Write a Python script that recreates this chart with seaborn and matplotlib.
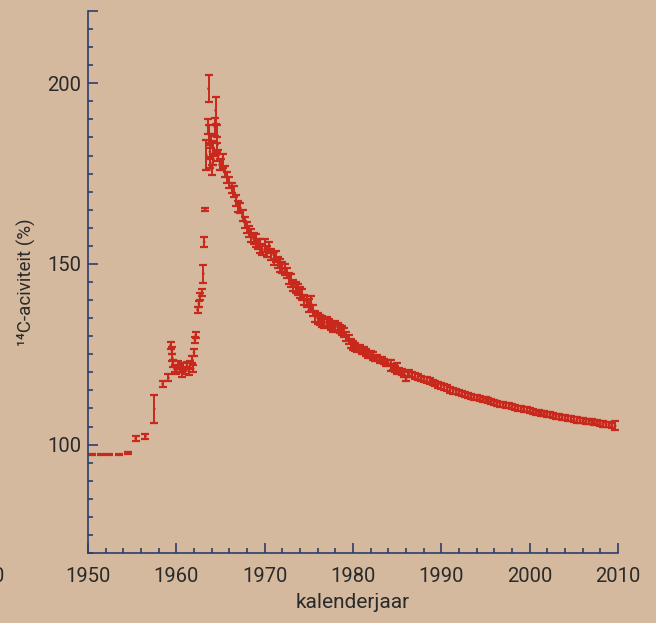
import numpy as np
import pandas as pd
import seaborn as sns
import matplotlib.pyplot as plt
from matplotlib.ticker import FixedLocator, MultipleLocator, FuncFormatter

# 14C activity of atmospheric CO2 (bomb peak)
year = [
    1950.4, 1951.5, 1952.4, 1953.5, 1954.5, 1955.4, 1956.5, 1957.5, 1958.45, 1959.1,
    1959.35, 1959.5, 1959.55, 1959.6, 1959.8, 1960.0, 1960.2, 1960.4, 1960.6, 1960.8,
    1961.0, 1961.2, 1961.4, 1961.6, 1961.8, 1961.9, 1962.0, 1962.1, 1962.2,
    1962.4, 1962.55, 1962.7, 1962.85, 1963.05, 1963.15, 1963.25, 1963.4, 1963.65,
    1963.6, 1963.75, 1963.8, 1963.85, 1963.9, 1964.0, 1964.1, 1964.2, 1964.35,
    1964.45, 1964.55, 1964.65, 1964.75, 1964.9,
    1965.0, 1965.25, 1965.5, 1965.75, 1966.0, 1966.25, 1966.5, 1966.75,
    1967.0, 1967.25, 1967.5, 1967.75, 1968.0, 1968.25, 1968.5, 1968.75,
    1969.0, 1969.25, 1969.5, 1969.75, 1970.0, 1970.25, 1970.5, 1970.75,
    1971.0, 1971.25, 1971.5, 1971.75, 1972.0, 1972.25, 1972.5, 1972.75,
    1973.0, 1973.25, 1973.5, 1973.75, 1974.0, 1974.25, 1974.5, 1974.75,
    1975.0, 1975.25, 1975.5, 1975.75, 1976.0, 1976.25, 1976.5, 1976.75,
    1977.0, 1977.25, 1977.5, 1977.75, 1978.0, 1978.25, 1978.5, 1978.75,
    1979.0, 1979.25, 1979.5, 1979.75, 1980.0, 1980.25, 1980.5, 1980.75,
    1981.0, 1981.25, 1981.5, 1981.75, 1982.0, 1982.25, 1982.5, 1982.75,
    1983.0, 1983.25, 1983.5, 1983.75, 1984.0, 1984.25, 1984.5, 1984.75,
    1985.0, 1985.25, 1985.5, 1985.75, 1986.0, 1986.25,
    1986.33, 1986.67, 1987.0, 1987.33, 1987.67, 1988.0, 1988.33, 1988.67,
    1989.0, 1989.33, 1989.67, 1990.0, 1990.33, 1990.67, 1991.0, 1991.33, 1991.67,
    1992.0, 1992.33, 1992.67, 1993.0, 1993.33, 1993.67, 1994.0, 1994.33, 1994.67,
    1995.0, 1995.33, 1995.67, 1996.0, 1996.33, 1996.67, 1997.0, 1997.33, 1997.67,
    1998.0, 1998.33, 1998.67, 1999.0, 1999.33, 1999.67, 2000.0, 2000.33, 2000.67,
    2001.0, 2001.33, 2001.67, 2002.0, 2002.33, 2002.67, 2003.0, 2003.33, 2003.67,
    2004.0, 2004.33, 2004.67, 2005.0, 2005.33, 2005.67, 2006.0, 2006.33, 2006.67,
    2007.0, 2007.33, 2007.67, 2008.0, 2008.33, 2008.67, 2009.0, 2009.33, 2009.67,
]
activity = [
    97.2, 97.2, 97.2, 97.3, 97.7, 101.7, 102.3, 109.9, 116.8, 118.5,
    127.5, 126.0, 124.0, 122.5, 121.0, 120.5, 122.0, 121.0, 119.8, 121.5,
    120.5, 121.8, 120.3, 122.0, 123.5, 121.0, 125.5, 129.0, 130.3,
    137.3, 139.0, 141.0, 142.0, 147.3, 156.1, 165.0, 180.2, 198.5,
    188.0, 186.0, 181.0, 178.0, 184.0, 176.0, 182.0, 179.0, 188.0,
    192.5, 186.0, 183.0, 180.0, 177.5,
    177.5, 178.5, 175.5, 174.0, 172.5, 171.0, 170.0, 167.5,
    166.0, 165.5, 163.5, 161.5, 160.0, 159.0, 158.0, 157.0,
    156.5, 155.5, 155.0, 154.0, 155.0, 153.5, 154.5, 152.5,
    151.5, 152.0, 150.5, 149.5, 149.0, 148.5, 147.5, 146.0,
    145.5, 144.0, 143.5, 143.0, 142.0, 141.5, 140.0, 139.5,
    138.5, 139.0, 137.0, 135.5, 135.0, 134.5, 134.0, 133.5,
    134.0, 133.5, 133.0, 132.5, 133.0, 132.5, 132.0, 131.5,
    131.0, 130.0, 129.0, 128.0, 127.5, 127.0, 126.5, 126.5,
    126.0, 126.0, 125.5, 125.0, 125.0, 124.5, 124.0, 124.0,
    123.5, 123.5, 123.0, 122.5, 122.5, 122.0, 121.5, 121.0,
    121.0, 120.5, 120.0, 119.5, 118.2, 119.5,
    119.8, 119.4, 118.9, 118.7, 118.3, 118.0, 117.8, 117.5,
    117.2, 116.9, 116.6, 116.3, 116.0, 115.6, 115.2, 114.9, 114.7,
    114.4, 114.1, 113.8, 113.5, 113.4, 113.1, 113.0, 112.8, 112.6,
    112.4, 112.1, 111.9, 111.6, 111.4, 111.2, 111.0, 110.9, 110.7,
    110.5, 110.3, 110.1, 109.9, 109.8, 109.6, 109.4, 109.2, 109.0,
    108.8, 108.7, 108.5, 108.3, 108.2, 108.0, 107.9, 107.8, 107.6,
    107.5, 107.3, 107.1, 106.9, 106.8, 106.7, 106.6, 106.5, 106.4,
    106.4, 106.2, 106.0, 105.8, 105.7, 105.6, 105.5, 105.3, 105.2,
]
error = [
    0.2, 0.2, 0.2, 0.2, 0.3, 0.6, 0.7, 3.8, 0.8, 1.0,
    1.0, 1.0, 1.0, 1.0, 1.0, 1.0, 1.0, 1.0, 1.0, 1.0,
    1.0, 1.0, 1.0, 1.0, 1.0, 1.0, 1.0, 0.8, 0.8,
    0.8, 0.8, 1.0, 1.0, 2.5, 1.3, 0.4, 4.1, 3.8,
    2.0, 2.5, 2.0, 1.5, 2.0, 1.5, 2.0, 1.5, 2.5,
    3.7, 2.5, 2.0, 1.5, 1.5,
    1.5, 2.0, 1.5, 1.5, 1.5, 1.5, 1.5, 1.5,
    1.5, 1.5, 1.5, 1.5, 1.5, 1.5, 1.8, 1.5,
    1.8, 1.5, 2.0, 1.5, 1.8, 1.5, 1.5, 1.5,
    1.8, 1.5, 1.5, 1.8, 1.5, 1.5, 1.5, 1.5,
    1.8, 1.5, 1.5, 1.5, 1.5, 1.5, 1.5, 1.5,
    1.8, 2.0, 1.5, 1.5, 1.5, 1.5, 1.5, 1.2,
    1.2, 1.2, 1.2, 1.2, 1.2, 1.2, 1.2, 1.2,
    1.2, 1.2, 1.2, 1.2, 1.2, 1.0, 1.0, 1.0,
    1.0, 1.0, 1.0, 1.0, 1.0, 1.0, 0.8, 0.8,
    0.8, 0.8, 0.8, 0.8, 0.8, 1.5, 0.8, 0.8,
    1.5, 0.8, 0.8, 0.8, 0.5, 0.7,
    0.8, 0.8, 0.8, 0.8, 0.8, 0.8, 0.8, 0.8,
    0.8, 0.8, 0.8, 0.8, 0.8, 0.8, 0.8, 0.8, 0.8,
    0.7, 0.7, 0.7, 0.7, 0.7, 0.7, 0.7, 0.7, 0.7,
    0.7, 0.7, 0.7, 0.7, 0.7, 0.7, 0.7, 0.7, 0.7,
    0.7, 0.7, 0.7, 0.7, 0.7, 0.7, 0.7, 0.7, 0.7,
    0.7, 0.7, 0.7, 0.7, 0.7, 0.7, 0.7, 0.7, 0.7,
    0.7, 0.7, 0.7, 0.7, 0.7, 0.7, 0.7, 0.7, 0.7,
    0.7, 0.7, 0.7, 0.7, 0.7, 0.7, 0.7, 0.7, 1.2,
]

df = pd.DataFrame({"year": year, "activity": activity, "error": error})

bg = "#D4B99F"
red = "#C9281D"
navy = "#2C3E6B"
ink = "#2A2A2A"

sns.set_theme(style="ticks")
plt.rcParams["font.family"] = ["Roboto", "DejaVu Sans"]

fig = plt.figure(figsize=(6.56, 6.23), dpi=100, facecolor=bg)
ax = fig.add_axes([88 / 656, 1 - 553 / 623, 530 / 656, 542 / 623])
ax.set_facecolor(bg)

ax.errorbar(df["year"], df["activity"], yerr=df["error"], fmt="none",
            ecolor=red, elinewidth=1.4, capsize=3.0, capthick=1.6)
sns.scatterplot(data=df, x="year", y="activity", ax=ax, s=4, color=red,
                edgecolor="none", legend=False)

ax.set_xlim(1950, 2010)
ax.set_ylim(70, 220)

ax.xaxis.set_major_locator(MultipleLocator(10))
ax.xaxis.set_minor_locator(MultipleLocator(2))
ax.yaxis.set_major_locator(FixedLocator([100, 150, 200, 220]))
ax.yaxis.set_major_formatter(FuncFormatter(lambda v, p: "" if v == 220 else f"{v:.0f}"))
ax.yaxis.set_minor_locator(MultipleLocator(5))

for s in ["top", "right"]:
    ax.spines[s].set_visible(False)
for s in ["left", "bottom"]:
    ax.spines[s].set_color(navy)
    ax.spines[s].set_linewidth(1.2)

ax.tick_params(which="both", direction="in", color=navy, width=1.2,
               labelcolor=ink, labelsize=14.5)
ax.tick_params(which="major", length=7)
ax.tick_params(which="minor", length=3.5)
ax.tick_params(axis="x", pad=10)
ax.tick_params(axis="y", pad=5)

ax.set_xlabel("kalenderjaar", fontsize=15, color=ink, labelpad=5)
ax.set_ylabel("\u00b9\u2074C-aciviteit (%)", fontsize=13.5, color=ink, labelpad=8)

# clipped tick label of the previous decade at the left edge
fig.text(5 / 656, 1 - 577 / 623, "1940", ha="right", va="center",
         fontsize=14.5, color=ink)

fig.savefig("out.png", dpi=100, facecolor=bg)
